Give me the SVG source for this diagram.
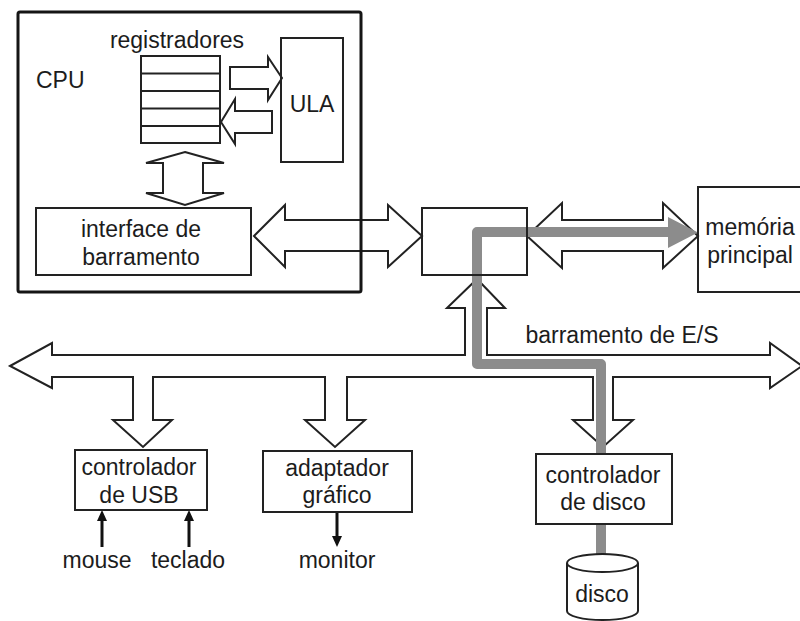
<svg xmlns="http://www.w3.org/2000/svg" width="800" height="621" viewBox="0 0 800 621">
<style>
.t{font-family:"Liberation Sans",Arial,sans-serif;font-size:23px;fill:#1c1c1c;text-anchor:middle}
.b{fill:#fff;stroke:#222;stroke-width:2;stroke-linejoin:miter}
.o{fill:none;stroke:#222;stroke-width:2}
.g{fill:none;stroke:#8c8c8c;stroke-width:10;stroke-linejoin:round}
.k{stroke:#111;stroke-width:3;fill:none}
</style>
<rect width="800" height="621" fill="#fff"/>
<g id="connectors">
  <polygon class="b" points="230,67 268,67 268,57 282,78 268,100 268,89 230,89"/>
  <polygon class="b" points="272,111 235,111 235,99 221,122 235,144 235,133 272,133"/>
  <polygon class="b" points="185,152 224,163 203,163 203,193 224,193 185,205 146,193 163,193 163,163 146,163"/>
  <polygon class="b" points="254,236 285,205 285,220 388,220 388,205 422,236 388,267 388,251 285,251 285,267"/>
  <polygon class="b" points="527,236 562,203 562,220 663,220 663,203 698,236 663,268 663,251 562,251 562,268"/>
  <polygon class="b" points="10,366 52,343 52,355 465,355 465,308 447,308 477,279 505,308 487,308 487,355 770,355 770,343 802,366 770,388 770,377 613,377 613,420 633,420 603,447 573,420 593,420 593,377 347,377 347,420 365,420 335,447 305,420 325,420 325,377 153,377 153,420 172,420 143,447 113,420 133,420 133,377 52,377 52,388"/>
  <path class="g" d="M601,556 V364 H477 V232 H672"/>
  <polygon points="668,217 698,232.5 668,248" fill="#8c8c8c"/>
  <line class="k" x1="102" y1="547" x2="102" y2="518"/>
  <polygon points="102,510 97,521 107,521" fill="#111"/>
  <line class="k" x1="189" y1="547" x2="189" y2="518"/>
  <polygon points="189,510 184,521 194,521" fill="#111"/>
  <line class="k" x1="337" y1="512" x2="337" y2="539"/>
  <polygon points="337,547 332,536 342,536" fill="#111"/>
</g>
<g id="cpu">
  <rect x="18" y="12" width="343" height="280" rx="2" fill="none" stroke="#151515" stroke-width="3"/>
  <text class="t" x="36" y="88" style="text-anchor:start">CPU</text>
</g>
<g id="registradores">
  <text class="t" x="177" y="48">registradores</text>
  <rect class="o" x="141" y="56" width="79" height="87"/>
  <path class="o" d="M141,73.5 H220 M141,91 H220 M141,108.5 H220 M141,126 H220"/>
</g>
<g id="ula">
  <rect class="o" x="281" y="38" width="62" height="124"/>
  <text class="t" x="312" y="112">ULA</text>
</g>
<g id="interface">
  <rect class="o" x="36" y="208" width="215" height="67"/>
  <text class="t" x="141" y="237">interface de</text>
  <text class="t" x="141" y="265">barramento</text>
</g>
<g id="ponte">
  <rect class="o" x="422" y="208" width="105" height="67"/>
</g>
<g id="memoria">
  <rect class="o" x="698" y="187" width="110" height="105"/>
  <text class="t" x="750" y="235">memória</text>
  <text class="t" x="750" y="263">principal</text>
</g>
<g id="barramento-es">
  <text class="t" x="622" y="343">barramento de E/S</text>
</g>
<g id="usb">
  <rect class="b" x="75" y="450" width="132" height="60"/>
  <text class="t" x="139" y="475">controlador</text>
  <text class="t" x="139" y="503">de USB</text>
</g>
<g id="grafico">
  <rect class="b" x="263" y="451" width="149" height="61"/>
  <text class="t" x="337" y="476">adaptador</text>
  <text class="t" x="337" y="503">gráfico</text>
</g>
<g id="controlador-disco">
  <rect class="b" x="536" y="454" width="136" height="70"/>
  <text class="t" x="603" y="483">controlador</text>
  <text class="t" x="603" y="510">de disco</text>
</g>
<g id="disco">
  <path class="b" d="M567,563 V611 A35.5,9 0 0 0 638,611 V563"/>
  <ellipse class="b" cx="602.5" cy="563" rx="35.5" ry="9"/>
  <text class="t" x="602" y="602">disco</text>
</g>
<g id="perifericos">
  <text class="t" x="97" y="568">mouse</text>
  <text class="t" x="188" y="568">teclado</text>
  <text class="t" x="337" y="568">monitor</text>
</g>
</svg>
